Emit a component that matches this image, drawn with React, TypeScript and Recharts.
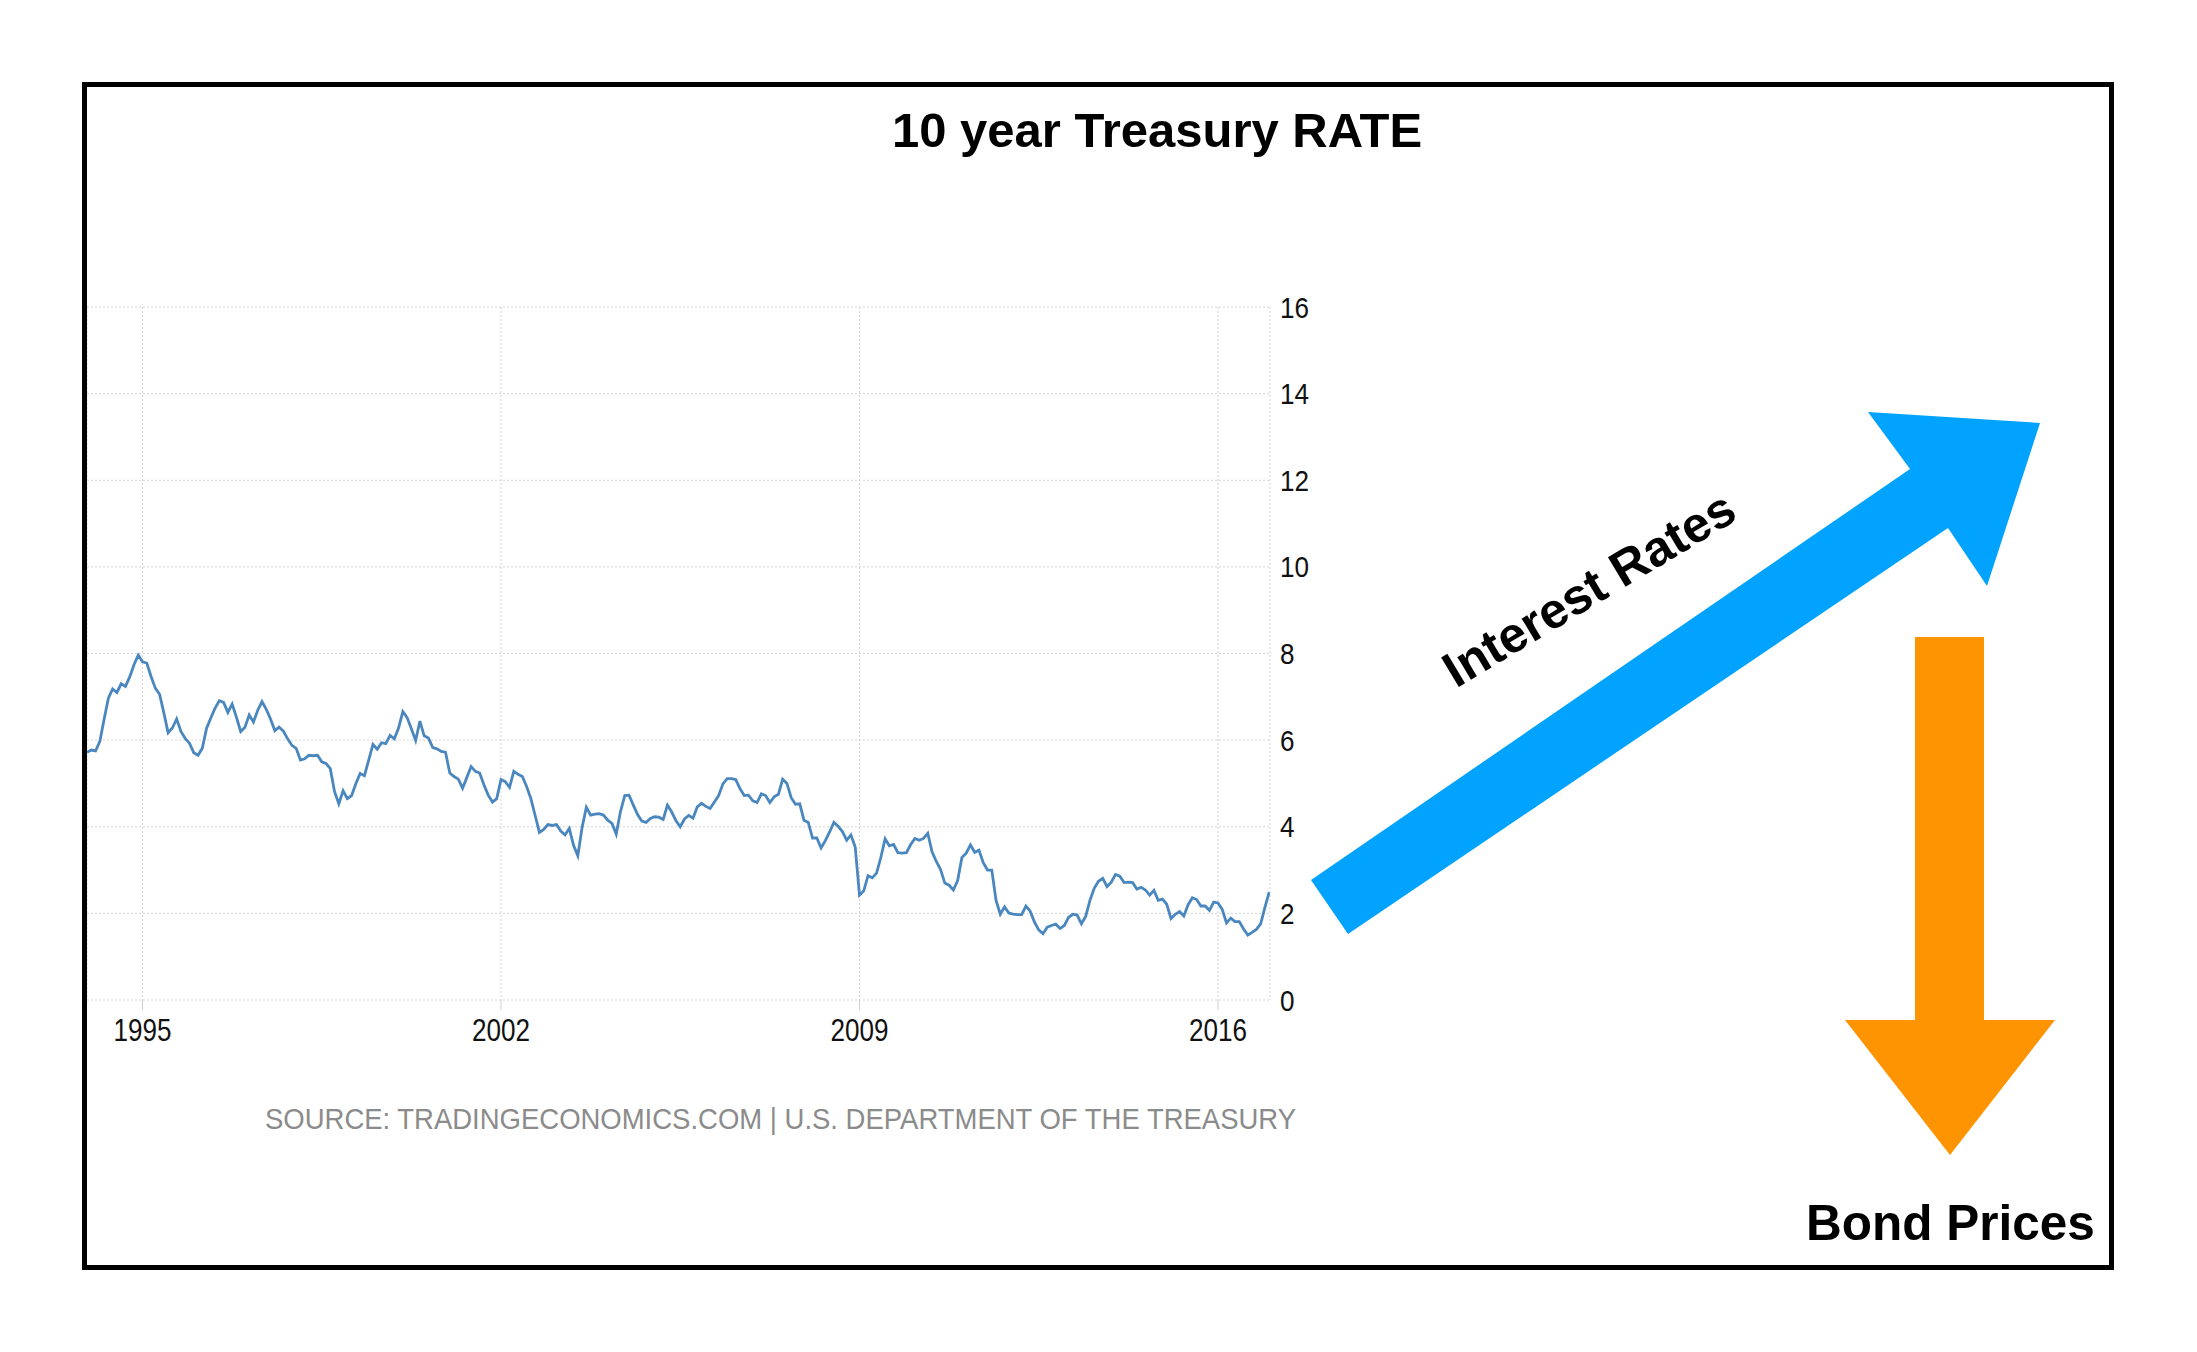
import React from 'react';
import { LineChart, Line, XAxis, YAxis, CartesianGrid } from 'recharts';

// 10-year Treasury rate, monthly (value plotted at month end)
const rates1993 = [5.72, 5.77]; // Nov, Dec
const rates1994 = [5.75, 5.97, 6.48, 6.97, 7.18, 7.10, 7.30, 7.24, 7.46, 7.74, 7.96, 7.81];
const rates1995 = [7.78, 7.47, 7.20, 7.06, 6.63, 6.17, 6.28, 6.49, 6.20, 6.04, 5.93, 5.71];
const rates1996 = [5.65, 5.81, 6.27, 6.51, 6.74, 6.91, 6.87, 6.64, 6.83, 6.53, 6.20, 6.30];
const rates1997 = [6.58, 6.42, 6.69, 6.89, 6.71, 6.49, 6.22, 6.30, 6.21, 6.03, 5.88, 5.81];
const rates1998 = [5.54, 5.57, 5.65, 5.64, 5.65, 5.50, 5.46, 5.34, 4.81, 4.53, 4.83, 4.65];
const rates1999 = [4.72, 5.00, 5.23, 5.18, 5.54, 5.90, 5.79, 5.94, 5.92, 6.11, 6.03, 6.28];
const rates2000 = [6.66, 6.52, 6.26, 5.99, 6.44, 6.10, 6.05, 5.83, 5.80, 5.74, 5.72, 5.24];
const rates2001 = [5.16, 5.10, 4.89, 5.14, 5.39, 5.28, 5.24, 4.97, 4.73, 4.57, 4.65, 5.09];
const rates2002 = [5.04, 4.91, 5.28, 5.21, 5.16, 4.93, 4.65, 4.26, 3.87, 3.94, 4.05, 4.03];
const rates2003 = [4.05, 3.90, 3.81, 3.96, 3.57, 3.33, 3.98, 4.45, 4.27, 4.29, 4.30, 4.27];
const rates2004 = [4.15, 4.08, 3.83, 4.35, 4.72, 4.73, 4.50, 4.28, 4.13, 4.10, 4.19, 4.23];
const rates2005 = [4.22, 4.17, 4.50, 4.34, 4.14, 4.00, 4.18, 4.26, 4.20, 4.46, 4.54, 4.47];
const rates2006 = [4.42, 4.57, 4.72, 4.99, 5.11, 5.11, 5.09, 4.88, 4.72, 4.73, 4.60, 4.56];
const rates2007 = [4.76, 4.72, 4.56, 4.69, 4.75, 5.10, 5.00, 4.67, 4.52, 4.53, 4.15, 4.10];
const rates2008 = [3.74, 3.74, 3.51, 3.68, 3.88, 4.10, 4.01, 3.89, 3.69, 3.81, 3.53, 2.42];
const rates2009 = [2.52, 2.87, 2.82, 2.93, 3.29, 3.72, 3.56, 3.59, 3.40, 3.39, 3.40, 3.59];
const rates2010 = [3.73, 3.69, 3.73, 3.85, 3.42, 3.20, 3.01, 2.70, 2.65, 2.54, 2.76, 3.29];
const rates2011 = [3.39, 3.58, 3.41, 3.46, 3.17, 3.00, 3.00, 2.30, 1.98, 2.15, 2.01, 1.98];
const rates2012 = [1.97, 1.97, 2.17, 2.05, 1.80, 1.62, 1.53, 1.68, 1.72, 1.75, 1.65, 1.72];
const rates2013 = [1.91, 1.98, 1.96, 1.76, 1.93, 2.30, 2.58, 2.74, 2.81, 2.62, 2.72, 2.90];
const rates2014 = [2.86, 2.71, 2.72, 2.71, 2.56, 2.60, 2.54, 2.42, 2.53, 2.30, 2.33, 2.21];
const rates2015 = [1.88, 1.98, 2.04, 1.94, 2.20, 2.36, 2.32, 2.17, 2.17, 2.07, 2.26, 2.24];
const rates2016 = [2.09, 1.78, 1.89, 1.81, 1.81, 1.64, 1.50, 1.56, 1.63, 1.76, 2.14, 2.49];

const yearSeries: [number, number, number[]][] = [
  [1993, 10, rates1993],
  [1994, 0, rates1994], [1995, 0, rates1995], [1996, 0, rates1996], [1997, 0, rates1997],
  [1998, 0, rates1998], [1999, 0, rates1999], [2000, 0, rates2000], [2001, 0, rates2001],
  [2002, 0, rates2002], [2003, 0, rates2003], [2004, 0, rates2004], [2005, 0, rates2005],
  [2006, 0, rates2006], [2007, 0, rates2007], [2008, 0, rates2008], [2009, 0, rates2009],
  [2010, 0, rates2010], [2011, 0, rates2011], [2012, 0, rates2012], [2013, 0, rates2013],
  [2014, 0, rates2014], [2015, 0, rates2015], [2016, 0, rates2016],
];

const yearTicks = [1995, 2002, 2009, 2016];
const rateTicks = [0, 2, 4, 6, 8, 10, 12, 14, 16];
const xDomain = [1993.916, 2017.016];

const TITLE = '10 year Treasury RATE';
const SOURCE = 'SOURCE: TRADINGECONOMICS.COM | U.S. DEPARTMENT OF THE TREASURY';
const UP_LABEL = 'Interest Rates';
const DOWN_LABEL = 'Bond Prices';

const data: { t: number; rate: number }[] = [];
yearSeries.forEach(([year, start, vals]) => {
  vals.forEach((v, i) => data.push({ t: year + (start + i + 1) / 12, rate: v }));
});

const tickFont = "'Liberation Sans Narrow', 'Liberation Sans', Arial, sans-serif";
const boldFont = "'Liberation Sans', Arial, Helvetica, sans-serif";

const XTick = (props: any) => {
  const { x, y, payload } = props;
  const s = String(payload.value);
  return (
    <text x={x} y={y + 29} textAnchor="middle" fontFamily={tickFont} fontSize={31} fill="#111"
      textLength={s.length * 14.5} lengthAdjust="spacingAndGlyphs">{s}</text>
  );
};

const YTick = (props: any) => {
  const { x, y, payload } = props;
  const s = String(payload.value);
  return (
    <text x={x} y={y + 10.5} textAnchor="start" fontFamily={tickFont} fontSize={30} fill="#111"
      textLength={s.length * 14.5} lengthAdjust="spacingAndGlyphs">{s}</text>
  );
};

const BLUE = '#02A3FE';
const ORANGE = '#FF9402';

const blueArrow = '1311,880 1910,469 1868,412 2040,423 1987,586 1948,528 1348,934';
const orangeArrow = '1915,637 1984,637 1984,1020 2055,1020 1950,1155 1845,1020 1915,1020';

export default function App() {
  return (
    <div style={{ position: 'absolute', left: 0, top: 0, width: 2197, height: 1352, background: '#fff' }}>
      <LineChart width={2197} height={1352} data={data}
        margin={{ top: 307, right: 867, bottom: 302, left: 87 }}>
        <CartesianGrid stroke="#d4d4d4" strokeDasharray="2 2" />
        <XAxis dataKey="t" type="number" domain={xDomain} ticks={yearTicks} allowDataOverflow
          axisLine={false} tickLine={{ stroke: '#cfcfcf' }} tickSize={10} height={50}
          tick={<XTick />} interval={0} />
        <YAxis orientation="right" domain={[0, 16]} ticks={rateTicks} axisLine={false}
          tickLine={false} tickSize={0} tickMargin={10} width={60} tick={<YTick />} interval={0} />
        <Line type="linear" dataKey="rate" stroke="#4a87bf" strokeWidth={2.8} dot={false}
          isAnimationActive={false} />
      </LineChart>
      <svg width={2197} height={1352} style={{ position: 'absolute', left: 0, top: 0, pointerEvents: 'none' }}>
        <rect x={84.5} y={84.5} width={2027} height={1183} fill="none" stroke="#000" strokeWidth={5} />
        <text x={1157} y={147} textAnchor="middle" fontFamily={boldFont}
          fontWeight="bold" fontSize={49} fill="#000">{TITLE}</text>
        <text x={265} y={1129} fontFamily={tickFont} fontSize={30} fill="#8b8b8b"
          textLength={1031} lengthAdjust="spacingAndGlyphs">{SOURCE}</text>
        <polygon points={blueArrow} fill={BLUE} />
        <polygon points={orangeArrow} fill={ORANGE} />
        <text x={1589} y={589} textAnchor="middle" dominantBaseline="central"
          transform="rotate(-31 1589 589)" fontFamily={boldFont}
          fontWeight="bold" fontSize={50} fill="#000">{UP_LABEL}</text>
        <text x={1806} y={1240} fontFamily={boldFont}
          fontWeight="bold" fontSize={49.5} fill="#000">{DOWN_LABEL}</text>
      </svg>
    </div>
  );
}
